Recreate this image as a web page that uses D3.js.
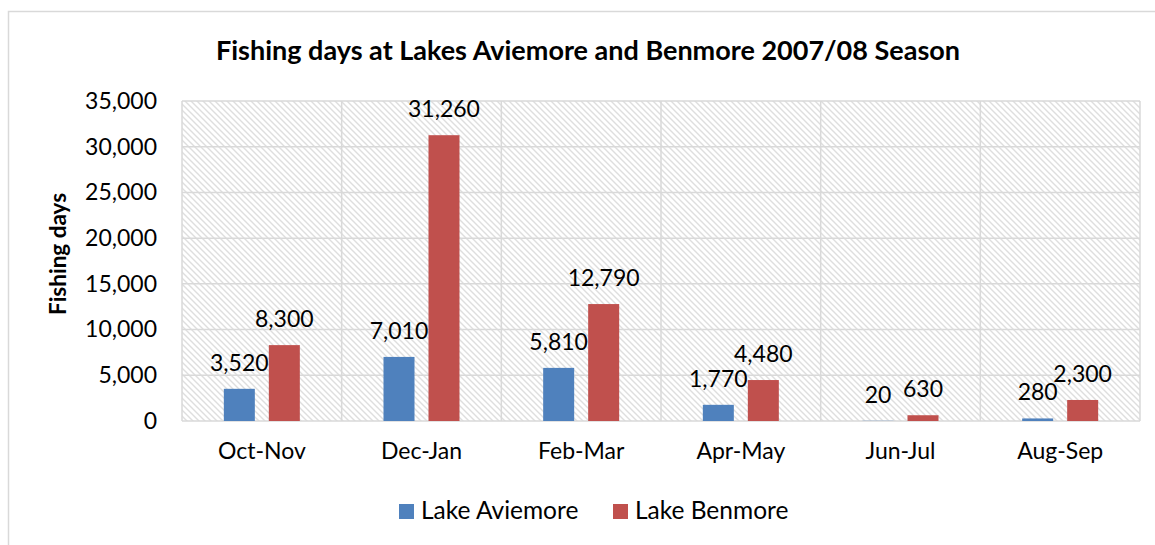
<!DOCTYPE html>
<html>
<head>
<meta charset="utf-8">
<script src="https://cdn.jsdelivr.net/npm/d3@7"></script>
<style>
  body { margin: 0; background: #fff; }
  svg { display: block; font-family: Lato, "Noto Sans", sans-serif; }
</style>
</head>
<body>
<div id="chart"></div>
<script>
// data
const categories = ["Oct-Nov", "Dec-Jan", "Feb-Mar", "Apr-May", "Jun-Jul", "Aug-Sep"];
const series = ["Lake Aviemore", "Lake Benmore"];
const aviemore = [3520, 7010, 5810, 1770, 20, 280];
const benmore = [8300, 31260, 12790, 4480, 630, 2300];
const yTicks = [0, 5000, 10000, 15000, 20000, 25000, 30000, 35000];

const
    width = 1155,
    height = 545,
    margin = { top: 101, right: 15, bottom: 124, left: 182 },
    colors = { "Lake Aviemore": "#4F81BD", "Lake Benmore": "#C0504D" },
    gridColor = "#d9d9d9",
    textColor = "#000";

const rows = categories.map((c, i) => ({ cat: c, values: [
    { key: series[0], value: aviemore[i] },
    { key: series[1], value: benmore[i] }
]}));

const svg = d3.select("#chart").append("svg")
    .attr("width", width)
    .attr("height", height);

// outer chart frame
svg.append("rect")
    .attr("x", 8.5).attr("y", 11.5)
    .attr("width", 1200).attr("height", 600)
    .attr("fill", "#fff")
    .attr("stroke", gridColor)
    .attr("stroke-width", 1.5);

// hatch pattern for the plot area
const defs = svg.append("defs");
const pat = defs.append("pattern")
    .attr("id", "hatch")
    .attr("patternUnits", "userSpaceOnUse")
    .attr("width", 6).attr("height", 6);
pat.append("rect").attr("width", 6).attr("height", 6).attr("fill", "#fff");
pat.append("path")
    .attr("d", "M-1,-1 L7,7 M-1,5 L1,7 M5,-1 L7,1")
    .attr("stroke", "#dedede")
    .attr("stroke-width", 1.4);

const x0 = d3.scaleBand()
    .domain(categories)
    .range([margin.left, width - margin.right]);

const bw = x0.bandwidth();
const x1 = d3.scaleBand()
    .domain(series)
    .range([bw / 2 - 38, bw / 2 + 38])
    .paddingInner(0.311);

const y = d3.scaleLinear()
    .domain([0, 35000])
    .range([height - margin.bottom, margin.top]);

const fmt = d3.format(",");

// plot area background
svg.append("rect")
    .attr("x", x0.range()[0])
    .attr("y", y(35000))
    .attr("width", x0.range()[1] - x0.range()[0])
    .attr("height", y(0) - y(35000))
    .attr("fill", "url(#hatch)");

// gridlines
svg.append("g")
    .selectAll("line")
    .data(yTicks)
    .join("line")
    .attr("x1", x0.range()[0])
    .attr("x2", x0.range()[1])
    .attr("y1", d => y(d))
    .attr("y2", d => y(d))
    .attr("stroke", gridColor)
    .attr("stroke-width", 1.5);

const bounds = categories.map(c => x0(c)).concat([x0.range()[1]]);
svg.append("g")
    .selectAll("line")
    .data(bounds)
    .join("line")
    .attr("x1", d => d)
    .attr("x2", d => d)
    .attr("y1", y(35000))
    .attr("y2", y(0))
    .attr("stroke", gridColor)
    .attr("stroke-width", 1.5);

// y axis labels
const yAxis = d3.axisLeft(y)
    .tickValues(yTicks)
    .tickFormat(fmt)
    .tickSize(0)
    .tickPadding(25);
svg.append("g")
    .attr("transform", `translate(${margin.left},0)`)
    .call(yAxis)
    .call(g => g.select(".domain").remove())
    .call(g => g.selectAll("text")
        .attr("fill", textColor)
        .style("font-size", "23px")
        .style("font-family", "Lato, sans-serif"));

// x axis labels
const xAxis = d3.axisBottom(x0)
    .tickSize(0)
    .tickPadding(22);
svg.append("g")
    .attr("transform", `translate(0,${y(0)})`)
    .call(xAxis)
    .call(g => g.select(".domain").remove())
    .call(g => g.selectAll("text")
        .attr("fill", textColor)
        .style("font-size", "23px")
        .style("font-family", "Lato, sans-serif"));

// bars
const groups = svg.append("g")
    .selectAll("g")
    .data(rows)
    .join("g")
    .attr("transform", d => `translate(${x0(d.cat)},0)`);

groups.selectAll("rect")
    .data(d => d.values)
    .join("rect")
    .attr("x", d => x1(d.key))
    .attr("y", d => y(d.value))
    .attr("width", x1.bandwidth())
    .attr("height", d => y(0) - y(d.value))
    .attr("fill", d => colors[d.key]);

groups.selectAll("text")
    .data(d => d.values)
    .join("text")
    .attr("x", d => x1(d.key) + x1.bandwidth() / 2)
    .attr("y", d => y(d.value) - 18)
    .attr("text-anchor", "middle")
    .attr("fill", textColor)
    .style("font-size", "23px")
    .text(d => fmt(d.value));

// title
svg.append("text")
    .attr("x", 588)
    .attr("y", 60)
    .attr("text-anchor", "middle")
    .attr("fill", textColor)
    .style("font-size", "27px")
    .style("font-weight", "bold")
    .text("Fishing days at Lakes Aviemore and Benmore 2007/08 Season");

// y axis title
svg.append("text")
    .attr("transform", "translate(66,254) rotate(-90)")
    .attr("text-anchor", "middle")
    .attr("fill", textColor)
    .style("font-size", "22.5px")
    .style("font-weight", "bold")
    .text("Fishing days");

// legend
const legendX = [399, 613];
const legend = svg.append("g")
    .selectAll("g")
    .data(series)
    .join("g")
    .attr("transform", (d, i) => `translate(${legendX[i]},504)`);
legend.append("rect")
    .attr("width", 15).attr("height", 15)
    .attr("fill", d => colors[d]);
legend.append("text")
    .attr("x", 22)
    .attr("y", 15)
    .attr("fill", textColor)
    .style("font-size", "24.5px")
    .text(d => d);
</script>
</body>
</html>
